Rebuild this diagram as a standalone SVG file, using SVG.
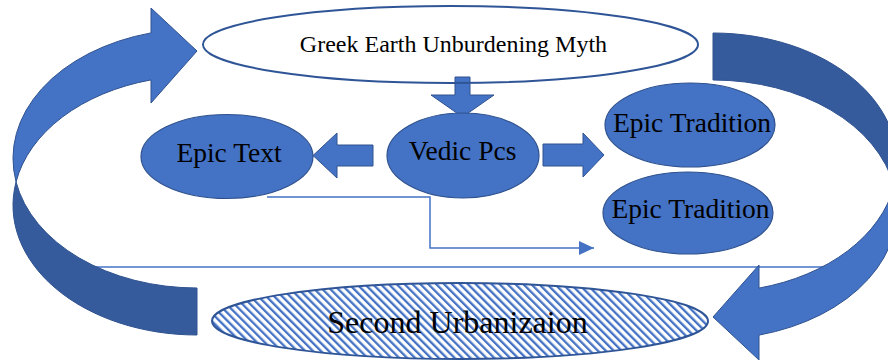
<svg xmlns="http://www.w3.org/2000/svg" xmlns:xlink="http://www.w3.org/1999/xlink" width="888" height="360" viewBox="0 0 888 360">
  <style>
    .lbl { font-family: "Liberation Serif", "Times New Roman", serif; fill: #000; text-anchor: middle; }
    .blob { fill: #4472c4; stroke: #2f528f; stroke-width: 1.2; }
    .blk { fill: #4472c4; stroke: #2f528f; stroke-width: 1; stroke-linejoin: miter; }
    .front { fill: #4472c4; stroke: #2f528f; stroke-width: 1; }
    .back { fill: #365b9d; stroke: #2f528f; stroke-width: 1; }
    .thin { fill: none; stroke: #4472c4; stroke-width: 1.5; }
  </style>
  <defs>
    <pattern id="hatch" width="5.6" height="5.6" patternUnits="userSpaceOnUse" patternTransform="rotate(-45)">
      <rect width="5.6" height="5.6" fill="#fff"/>
      <rect width="2.3" height="5.6" fill="#4472c4"/>
    </pattern>
    <marker id="tri" viewBox="0 0 15 14" refX="15" refY="7" markerWidth="15" markerHeight="14" markerUnits="userSpaceOnUse" orient="auto">
      <path d="M0,0 L15,7 L0,14 Z" fill="#4472c4"/>
    </marker>
    <!-- curved band arrow: head part (light) and trailing part (dark) -->
    <path id="curveFront" d="M151,32.9 L151,8 L197,51 L151,103 L151,79.9 A184,129.6 0 0 0 16.05,181.9 A184,129.6 0 0 1 151,32.9 Z"/>
    <path id="curveBack" d="M16.05,181.9 A184,129.6 0 0 0 197,335 L197,288 A184,129.6 0 0 1 16.05,181.9 Z"/>
  </defs>

  <rect width="888" height="360" fill="#fff"/>

  <g id="connectors">
    <line class="thin" x1="60" y1="267" x2="850" y2="267"/>
    <polyline class="thin" points="267,197 430,197 430,248 594,248" marker-end="url(#tri)"/>
    <polygon class="blk" points="455,77 470,77 470,95 494,95 462.5,117 431,95 455,95"/>
    <polygon class="blk" points="373,145 337,145 337,133 313,155.5 337,178 337,166 373,166"/>
    <polygon class="blk" points="543,144 583,144 583,133 604,155 583,177 583,166 543,166"/>
  </g>

  <g id="cycle-left">
    <use xlink:href="#curveBack" class="back"/>
    <use xlink:href="#curveFront" class="front"/>
  </g>
  <g id="cycle-right" transform="rotate(180 455 184)">
    <use xlink:href="#curveBack" class="back"/>
    <use xlink:href="#curveFront" class="front"/>
  </g>

  <g id="greek-myth">
    <ellipse cx="450.5" cy="44.5" rx="247.5" ry="38.5" fill="none" stroke="#2f5597" stroke-width="2"/>
    <text class="lbl" x="453.5" y="52" font-size="24">Greek Earth Unburdening Myth</text>
  </g>

  <g id="vedic-pcs">
    <ellipse class="blob" cx="463" cy="155.5" rx="76" ry="42.5"/>
    <text class="lbl" x="462.5" y="160" font-size="27.5">Vedic Pcs</text>
  </g>

  <g id="epic-text">
    <ellipse class="blob" cx="227" cy="156.5" rx="86" ry="42"/>
    <text class="lbl" x="229" y="162" font-size="27.5">Epic Text</text>
  </g>

  <g id="epic-tradition-1">
    <ellipse class="blob" cx="690" cy="125" rx="85" ry="42"/>
    <text class="lbl" x="692" y="132" font-size="27.5">Epic Tradition</text>
  </g>

  <g id="epic-tradition-2">
    <ellipse class="blob" cx="688" cy="213" rx="85" ry="41"/>
    <text class="lbl" x="690.5" y="218" font-size="27.5">Epic Tradition</text>
  </g>

  <g id="second-urbanization">
    <ellipse cx="460" cy="321" rx="248" ry="38" fill="url(#hatch)" stroke="#2f5597" stroke-width="2"/>
    <text class="lbl" x="457.5" y="333" font-size="32">Second Urbanizaion</text>
  </g>
</svg>
